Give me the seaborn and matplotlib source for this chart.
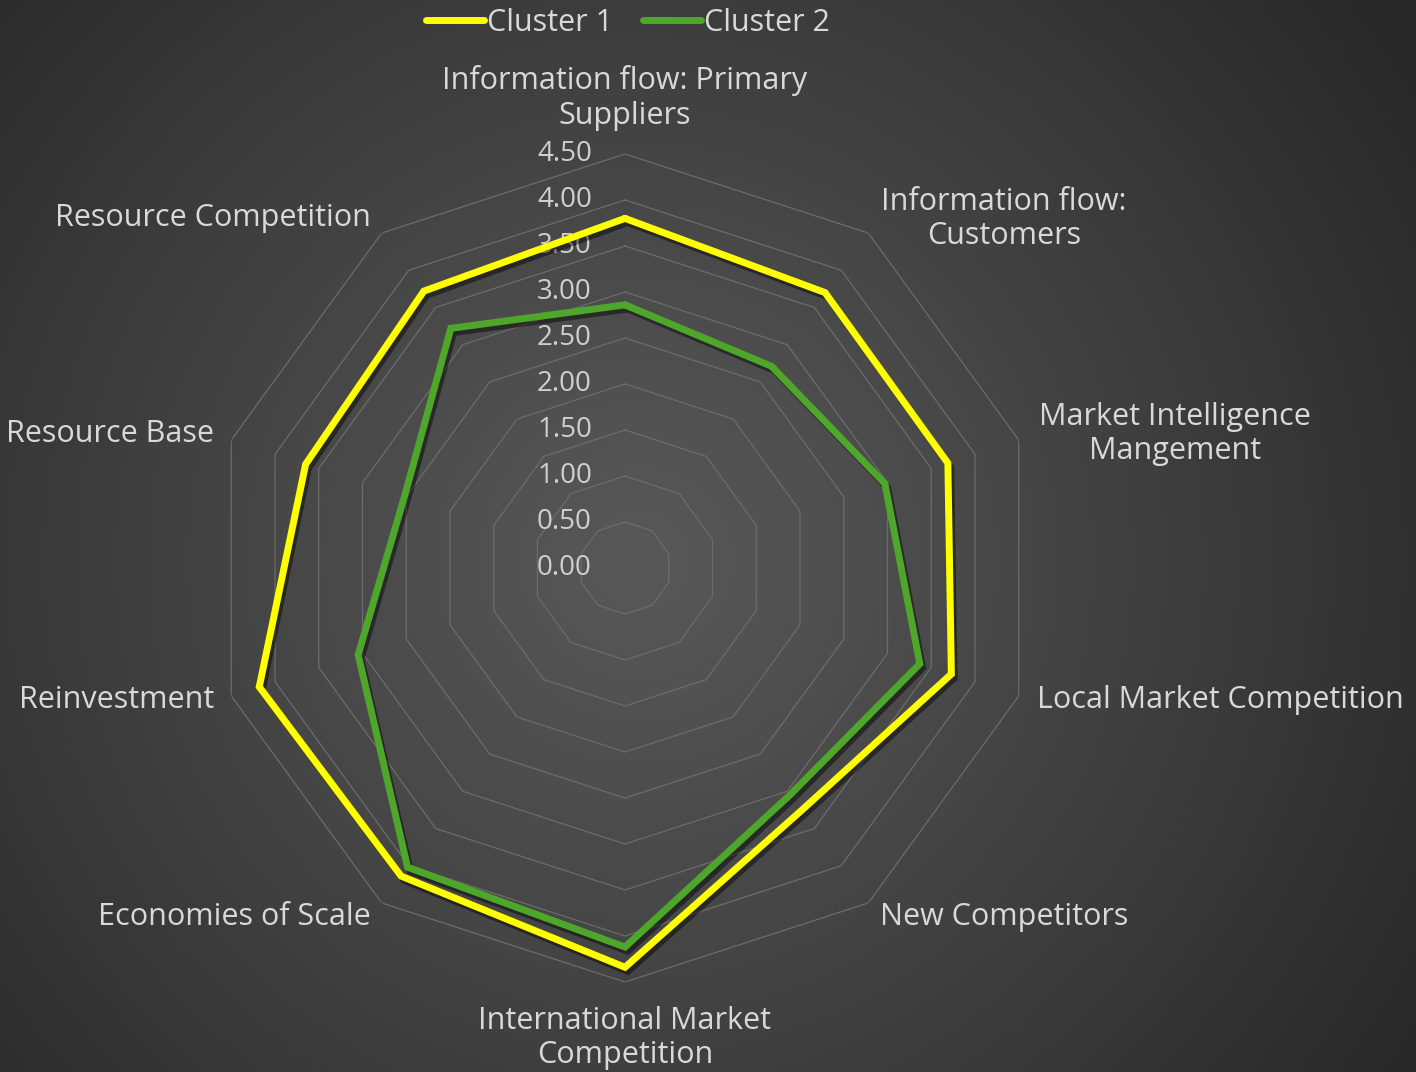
import numpy as np
import pandas as pd
import matplotlib
matplotlib.use("Agg")
import matplotlib.pyplot as plt
import matplotlib.patheffects as pe
from matplotlib.lines import Line2D
import seaborn as sns

# ---------------- data ----------------
categories = [
    "Information flow: Primary\nSuppliers",
    "Information flow:\nCustomers",
    "Market Intelligence\nMangement",
    "Local Market Competition",
    "New Competitors",
    "International Market\nCompetition",
    "Economies of Scale",
    "Reinvestment",
    "Resource Base",
    "Resource Competition",
]
cluster1 = [3.80, 3.70, 3.69, 3.73, 3.26, 4.34, 4.14, 4.18, 3.65, 3.72]
cluster2 = [2.86, 2.71, 2.97, 3.37, 3.05, 4.12, 4.02, 3.05, 2.52, 3.22]
series_names = ["Cluster 1", "Cluster 2"]
series_colors = ["#FFFF00", "#4EA72A"]
ring_values = [0.5, 1.0, 1.5, 2.0, 2.5, 3.0, 3.5, 4.0, 4.5]
tick_values = [0.0, 0.5, 1.0, 1.5, 2.0, 2.5, 3.0, 3.5, 4.0, 4.5]

W, H = 1416, 1072
sns.set_theme(style="white")
plt.rcParams["font.family"] = ["Open Sans", "DejaVu Sans"]
TEXT = "#d9d9d9"

fig = plt.figure(figsize=(W / 100, H / 100), dpi=100)

# background radial gradient
bg = fig.add_axes([0, 0, 1, 1], zorder=-10)
yy, xx = np.mgrid[0:H, 0:W]
d = np.sqrt(((xx - 640) / 1.0) ** 2 + ((yy - 560) / 1.0) ** 2) / 920.0
d = np.clip(d, 0, 1)
val = (0x58 - (0x58 - 0x28) * d ** 1.1) / 255.0
bg.imshow(np.dstack([val, val, val]), aspect="auto", extent=[0, 1, 0, 1])
bg.axis("off")

# polar axes centred at (625, 568) px with radius 414 px for 4.5
cx, cy, R = 625, 568, 414
ax = fig.add_axes([(cx - R) / W, (H - cy - R) / H, 2 * R / W, 2 * R / H],
                  projection="polar")
ax.set_theta_zero_location("N")
ax.set_theta_direction(-1)
ax.patch.set_alpha(0)
ax.grid(False)
ax.spines["polar"].set_visible(False)

n = len(categories)
theta = np.linspace(0, 2 * np.pi, n, endpoint=False)
theta_closed = np.append(theta, 2 * np.pi)

# decagon gridlines
for v in ring_values:
    ax.plot(theta_closed, [v] * (n + 1), color="#6c6c6c", lw=0.9, zorder=1)

# tick labels
for v in tick_values:
    ax.annotate(f"{v:.2f}", xy=(0, v), xytext=(-33, 0), textcoords="offset pixels",
                ha="right", va="center", fontsize=20, color="#cfcfcf", zorder=2)

# data lines via seaborn
rows = []
for name, vals in zip(series_names, [cluster1, cluster2]):
    vc = list(vals) + [vals[0]]
    for t, v in zip(theta_closed, vc):
        rows.append({"theta": t, "value": v, "cluster": name})
df = pd.DataFrame(rows)

sns.lineplot(data=df, x="theta", y="value", hue="cluster", sort=False,
             estimator=None, palette=dict(zip(series_names, series_colors)),
             linewidth=5.0, legend=False, ax=ax, zorder=5)
for ln in ax.get_lines()[-2:]:
    ln.set_path_effects([pe.SimpleLineShadow(offset=(2, -3), shadow_color="black", alpha=0.45),
                         pe.Normal()])
    ln.set_solid_joinstyle("miter")

ax.set_ylim(0, 4.5)
ax.set_xticks([])
ax.set_yticks([])
ax.set_xlabel("")
ax.set_ylabel("")

# category labels (pixel positions of the reference layout)
label_pos = [
    (625, 98, "center"),
    (1004, 219, "center"),
    (1175, 434, "center"),
    (1037, 700, "left"),
    (880, 917, "left"),
    (625, 1038, "center"),
    (371, 917, "right"),
    (214, 700, "right"),
    (214, 434, "right"),
    (371, 218, "right"),
]
for lab, (x, y, ha) in zip(categories, label_pos):
    fig.text(x / W, 1 - y / H, lab, ha=ha, va="center", multialignment="center",
             fontsize=22, color=TEXT, linespacing=1.2)

# legend
handles = [Line2D([], [], color=c, lw=5.0, solid_capstyle="round") for c in series_colors]
fig.legend(handles, series_names, loc="center", bbox_to_anchor=(628 / W, 1 - 23 / H),
           ncol=2, frameon=False, fontsize=22, labelcolor=TEXT, handlelength=1.9,
           handletextpad=0.1, columnspacing=1.0)

fig.savefig("out.png", dpi=100)
